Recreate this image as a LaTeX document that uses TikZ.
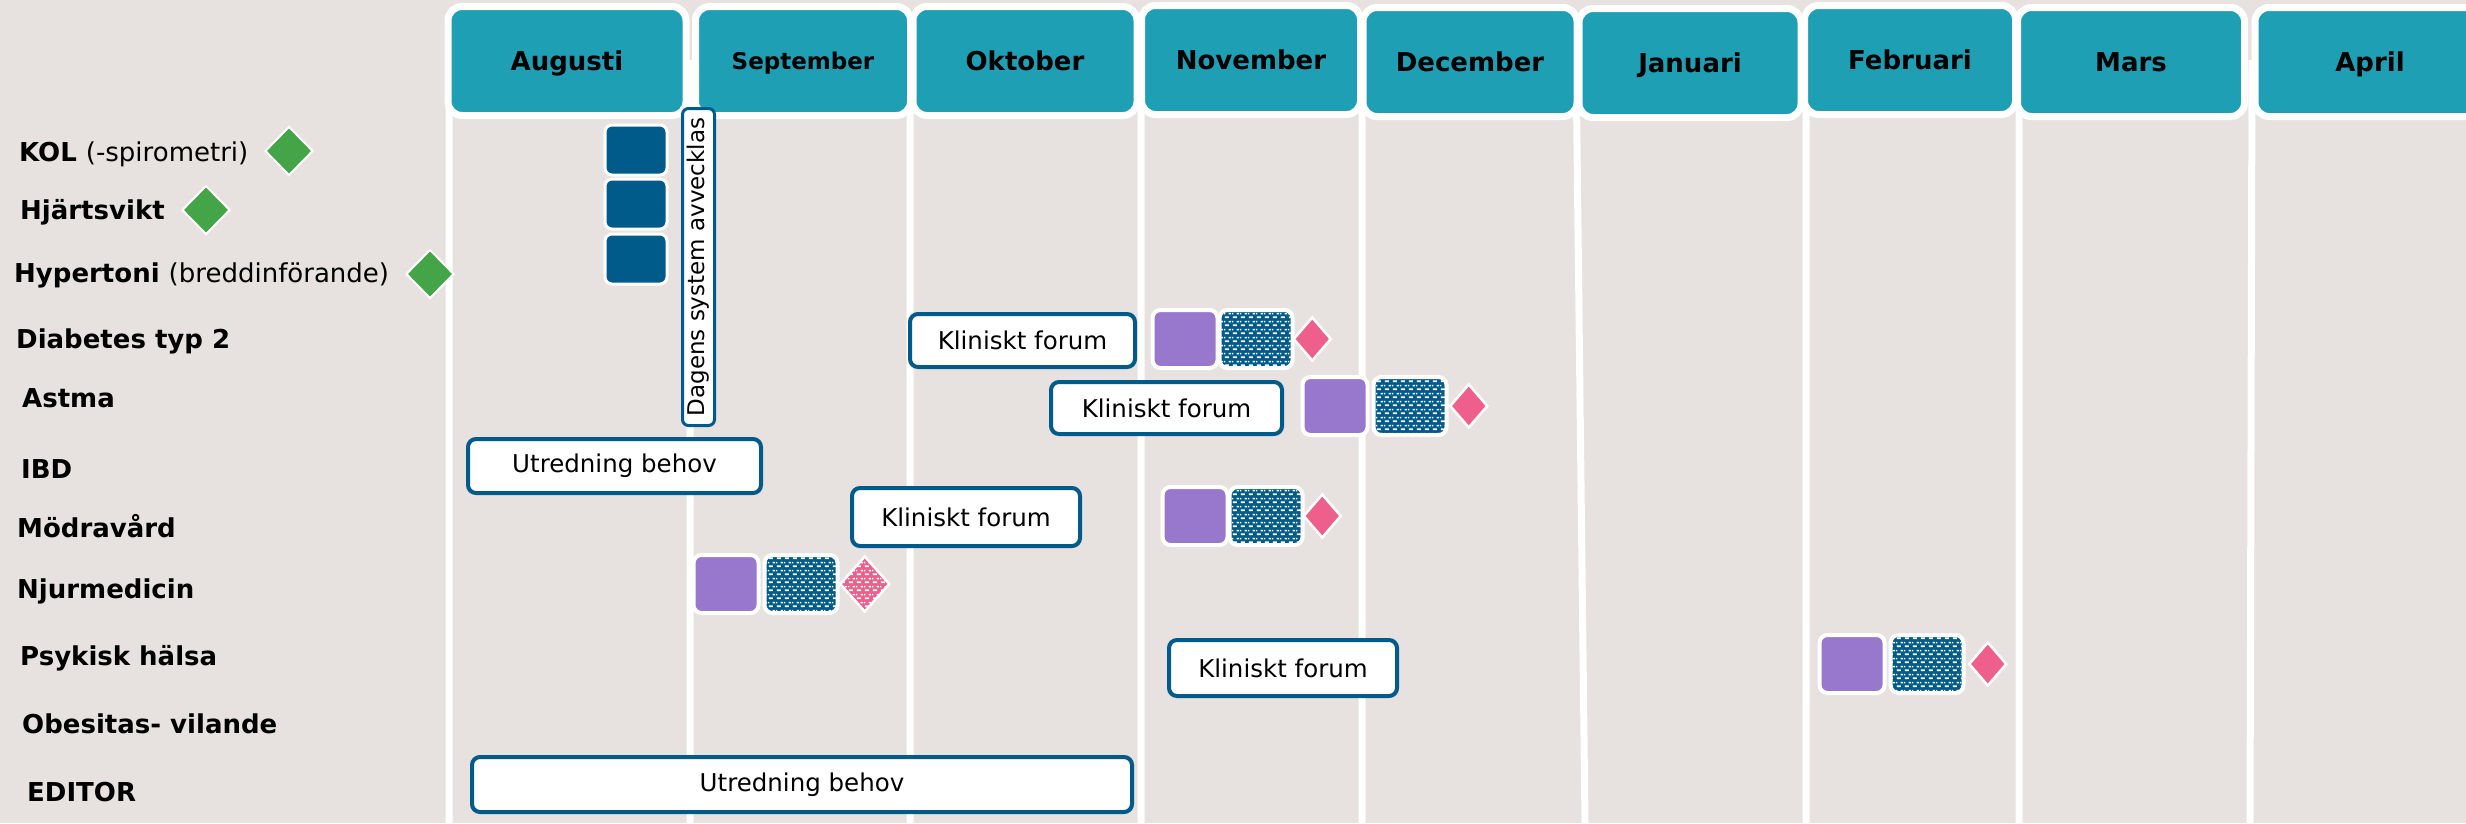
\documentclass[tikz,border=0pt]{standalone}
\usepackage{fontspec}
\setmainfont{DejaVu Sans}
\usetikzlibrary{positioning,shapes.geometric,patterns}

\definecolor{bgcol}{HTML}{E7E2DF}
\definecolor{monthcol}{HTML}{1E9FB4}
\definecolor{darkblue}{HTML}{005B8A}
\definecolor{lila}{HTML}{9778CD}
\definecolor{rosa}{HTML}{EE5F8C}
\definecolor{gron}{HTML}{43A548}

% white brick dashes, used on the blue squares
\pgfdeclarepatternformonly{dashbricks}{\pgfqpoint{0pt}{0pt}}{\pgfqpoint{8pt}{8pt}}{\pgfqpoint{8pt}{8pt}}{%
  \pgfpathrectangle{\pgfqpoint{1pt}{1pt}}{\pgfqpoint{4.5pt}{1.8pt}}%
  \pgfpathrectangle{\pgfqpoint{5pt}{5pt}}{\pgfqpoint{3pt}{1.8pt}}%
  \pgfpathrectangle{\pgfqpoint{0pt}{5pt}}{\pgfqpoint{1.5pt}{1.8pt}}%
  \pgfusepath{fill}}

\begin{document}
\begin{tikzpicture}[x=1pt,y=-1pt,inner sep=0pt,node distance=0pt]
  \tikzstyle{month}=[fill=monthcol,draw=white,line width=7pt,rounded corners=14pt,
                     minimum height=109pt,text height=19pt,text depth=0pt,
                     font=\fontsize{26}{30}\selectfont\bfseries]
  \tikzstyle{row}=[anchor=base west,font=\fontsize{26}{30}\selectfont\bfseries]
  \tikzstyle{textbox}=[fill=white,draw=darkblue,line width=4pt,rounded corners=8pt,
                       font=\fontsize{24.5}{28}\selectfont]
  \tikzstyle{oldsys}=[fill=darkblue,draw=white,line width=3pt,rounded corners=7pt,
                      minimum width=62pt,minimum height=50pt]
  \tikzstyle{lila}=[fill=lila,draw=white,line width=4pt,rounded corners=8pt,
                    minimum width=65pt,minimum height=58pt]
  \tikzstyle{bricks}=[draw=white,line width=4pt,rounded corners=8pt,
                      minimum width=73pt,minimum height=58pt,
                      preaction={fill=darkblue},pattern=dashbricks,pattern color=white]
  \tikzstyle{pin}=[diamond,fill=rosa,draw=white,line width=2.5pt,
                   minimum width=38pt,minimum height=44pt]
  \tikzstyle{start}=[diamond,fill=gron,draw=white,line width=2pt,
                     minimum width=48pt,minimum height=49pt]

  \clip (0,0) rectangle (2466,823);
  \fill[bgcol] (0,0) rectangle (2466,823);

  % column lines
  \draw[white,line width=7pt] (449,60) -- (449,823)
                              (690,60) -- (690,823)
                              (910,60) -- (910,823)
                              (1141,60) -- (1141,823)
                              (1362,60) -- (1362,823)
                              (1576,60) -- (1585,823)
                              (1806,60) -- (1806,823)
                              (2019,60) -- (2019,823)
                              (2252,60) -- (2250,823);

  % months
  \node[month,minimum width=238pt] (aug) at (567,61)  {Augusti};
  \node[month,minimum width=215pt,text height=17pt,font=\fontsize{23}{27}\selectfont\bfseries]
                                   (sep) at (803,61)  {September};
  \node[month,minimum width=224pt] (okt) at (1025,61) {Oktober};
  \node[month,minimum width=219pt] (nov) at (1251,60) {November};
  \node[month,minimum width=214pt] (dec) at (1470,62) {December};
  \node[month,minimum width=222pt] (jan) at (1690,63) {Januari};
  \node[month,minimum width=211pt] (feb) at (1910,60) {Februari};
  \node[month,minimum width=227pt] (mar) at (2131,62) {Mars};
  \node[month,minimum width=230pt] (apr) at (2370,62) {April};

  % rows
  \node[row] (kol)  at (19,161)  {KOL {\mdseries (-spirometri)}};
  \node[row] (hjv)  at (20,219)  {Hjärtsvikt};
  \node[row] (hyp)  at (14,282)  {Hypertoni {\mdseries (breddinförande)}};
  \node[row] (dia)  at (16,348)  {Diabetes typ 2};
  \node[row] (ast)  at (22,407)  {Astma};
  \node[row] (ibd)  at (21,478)  {IBD};
  \node[row] (mod)  at (17,537)  {Mödravård};
  \node[row] (nju)  at (17,598)  {Njurmedicin};
  \node[row] (psy)  at (20,665)  {Psykisk hälsa};
  \node[row] (obe)  at (22,733)  {Obesitas- vilande};
  \node[row] (edi)  at (27,801)  {EDITOR};

  \node[start] (kolst) at (289,151) {};
  \node[start] (hjvst) at (206,210) {};
  \node[start] (hypst) at (430,274) {};

  % old system
  \node[oldsys] (old1) at (636,150) {};
  \node[oldsys] (old2) at (636,204) {};
  \node[oldsys] (old3) at (636,259) {};
  \node[textbox,rotate=90,line width=3pt,rounded corners=6pt,minimum width=317pt,
        minimum height=32pt,font=\fontsize{23}{26}\selectfont]
        (dagens) at (698.5,267) {Dagens system avvecklas};

  % investigations
  \node[textbox,minimum width=293pt,minimum height=54pt] (ibdutr) at (614.5,466) {Utredning behov};
  \node[textbox,minimum width=660pt,minimum height=55pt] (ediutr) at (802,784.5) {Utredning behov};

  % clinical forums
  \node[textbox,minimum width=225pt,minimum height=53pt] (diakf) at (1022.5,340.5) {Kliniskt forum};
  \node[textbox,minimum width=231pt,minimum height=52pt] (astkf) at (1166.5,408)   {Kliniskt forum};
  \node[textbox,minimum width=228pt,minimum height=58pt] (modkf) at (966,517)      {Kliniskt forum};
  \node[textbox,minimum width=228pt,minimum height=56pt] (psykf) at (1283,668)     {Kliniskt forum};

  % launches
  \node[lila]   (dia1) at (1185,339) {};
  \node[bricks] (dia2) [right=-2pt of dia1] {};
  \node[pin]    (dia3) [right=-2.5pt of dia2] {};

  \node[lila]   (ast1) at (1335,406) {};
  \node[bricks] (ast2) [right=2pt of ast1] {};
  \node[pin]    (ast3) [right=of ast2] {};

  \node[lila]   (mod1) at (1195,516) {};
  \node[bricks] (mod2) [right=-2pt of mod1] {};
  \node[pin]    (mod3) [right=-2.5pt of mod2] {};

  \node[lila]   (nju1) at (726,584) {};
  \node[bricks] (nju2) [right=2pt of nju1] {};
  \node[pin,minimum width=50pt,minimum height=56pt,fill=none,
        preaction={fill=rosa},pattern=dashbricks,pattern color=white]
                (nju3) [right=-1pt of nju2] {};

  \node[lila]   (psy1) at (1852,664) {};
  \node[bricks] (psy2) [right=2pt of psy1] {};
  \node[pin]    (psy3) [right=2pt of psy2] {};
\end{tikzpicture}
\end{document}
